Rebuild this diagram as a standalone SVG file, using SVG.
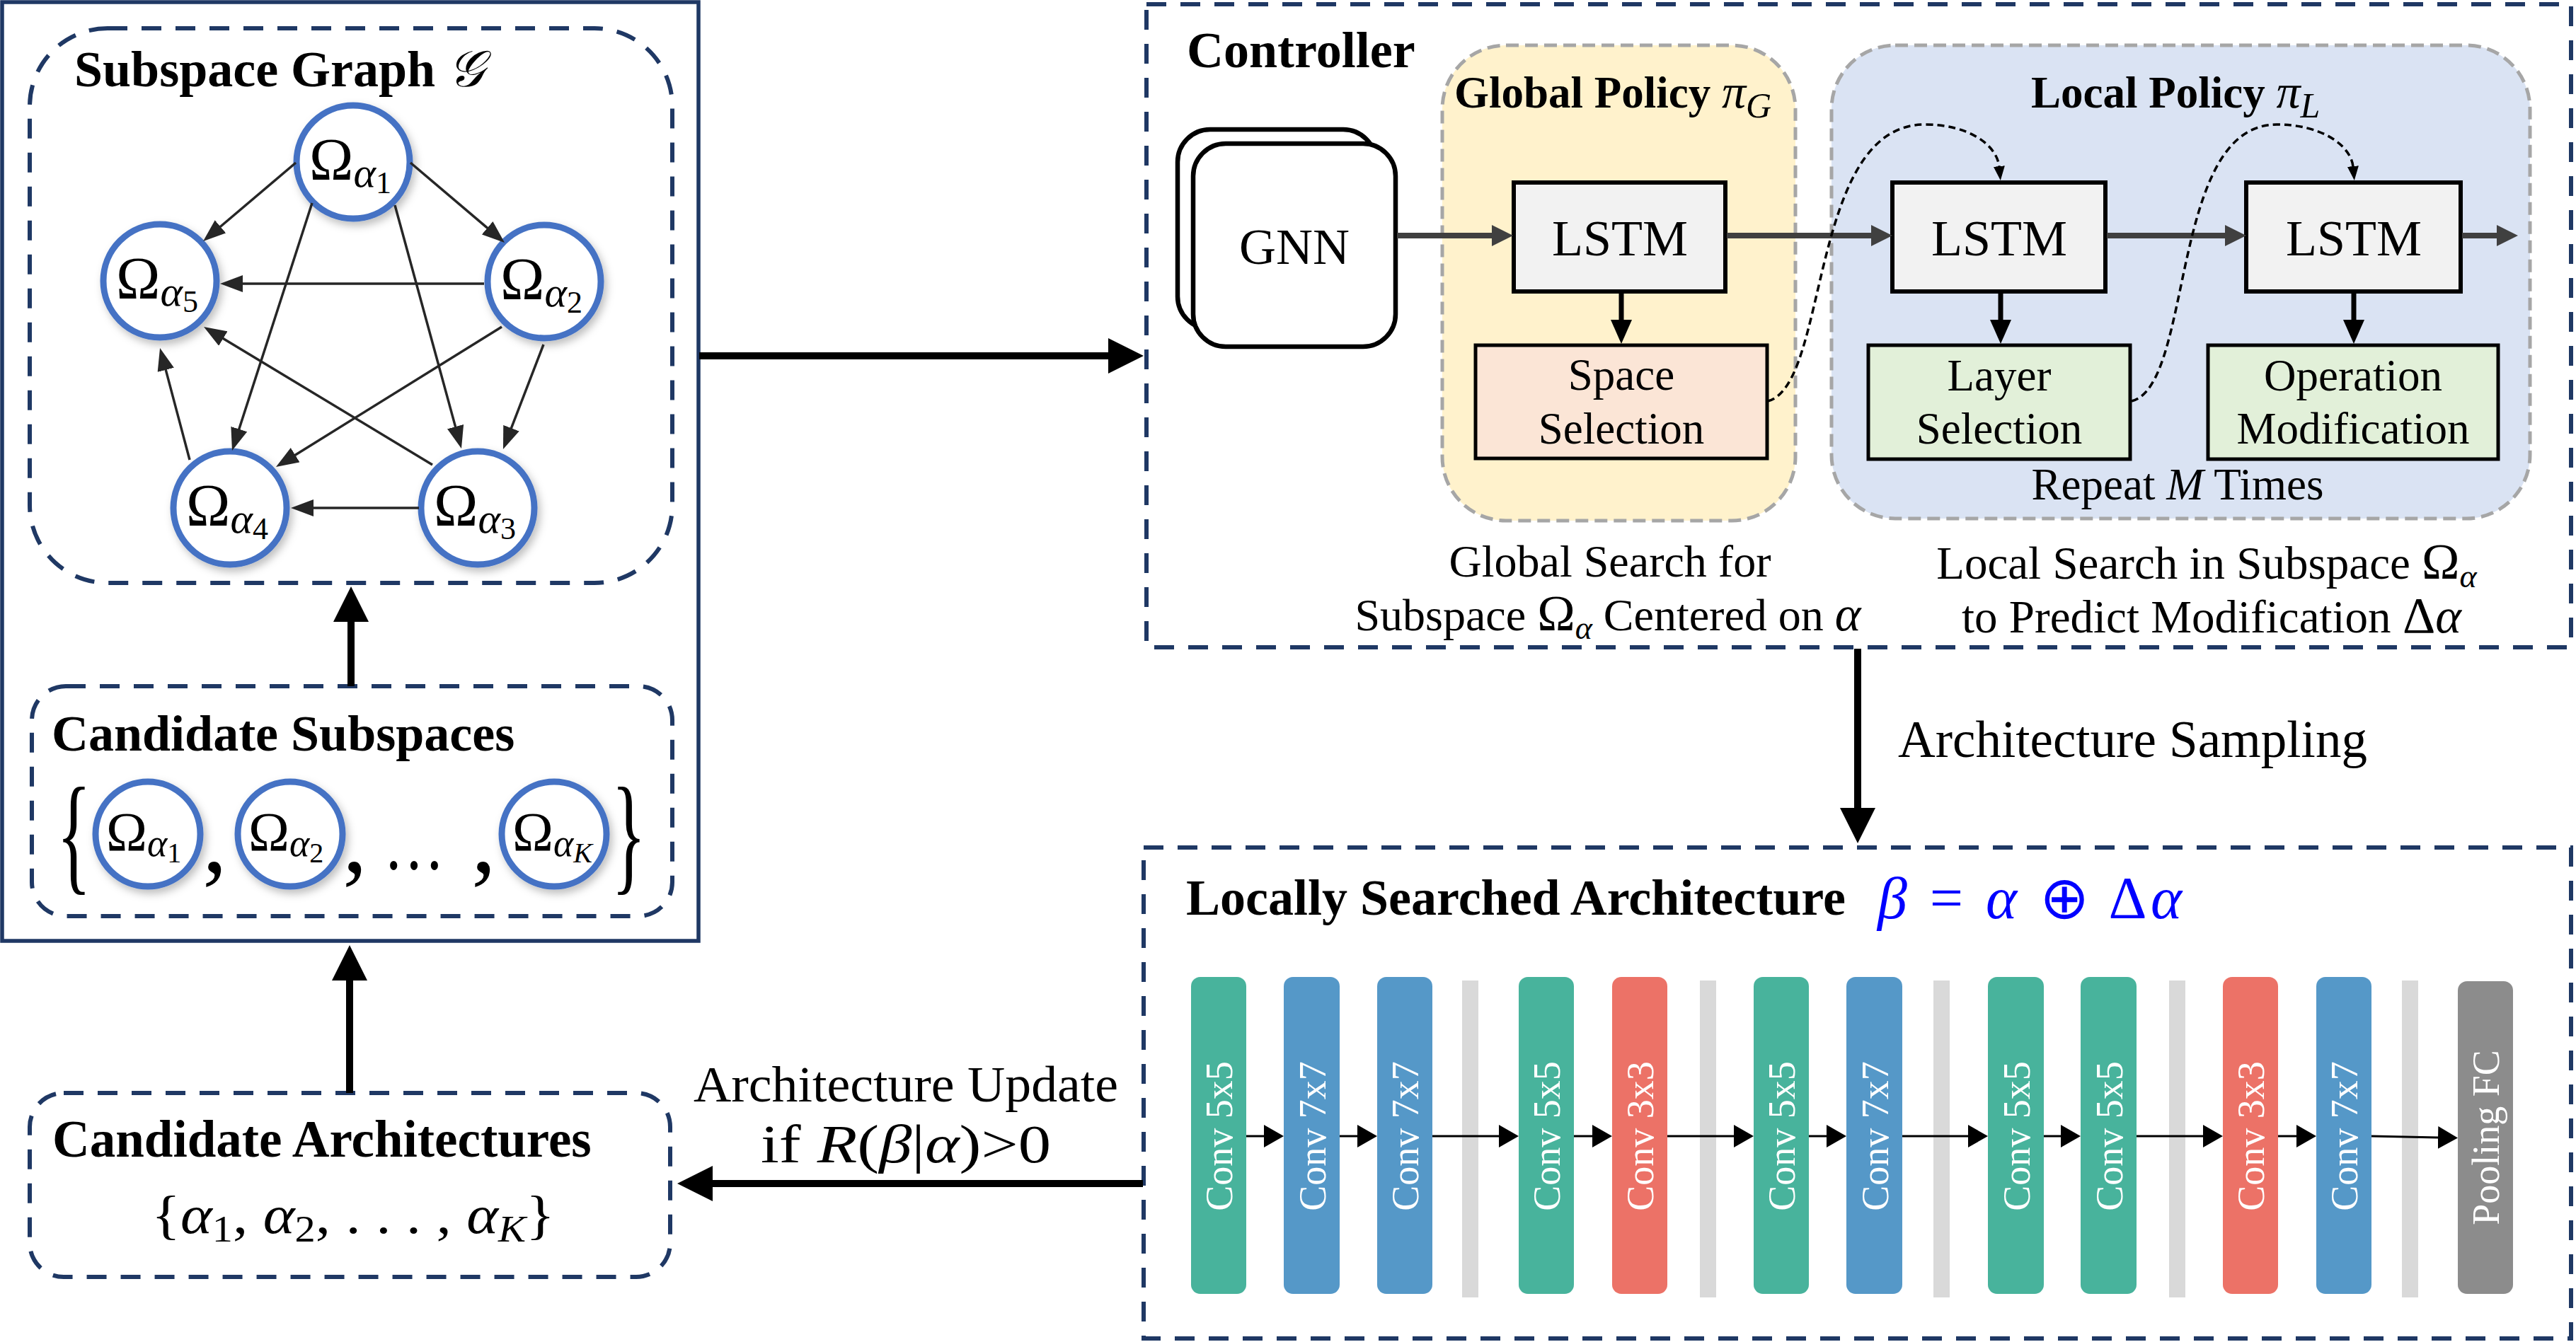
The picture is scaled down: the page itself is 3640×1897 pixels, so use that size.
<svg xmlns="http://www.w3.org/2000/svg" width="3640" height="1897" viewBox="0 0 3640 1897">
<style>
.serif{font-family:"Liberation Serif","Times New Roman",serif;fill:#000}
.bold{font-weight:bold}
.it{font-style:italic}
.navydash{fill:none;stroke:#1F3864;stroke-width:6;stroke-dasharray:28 20}
.polpanel{stroke:#A6A6A6;stroke-width:5;stroke-dasharray:18 9}
.gnode{fill:#fff;stroke:#4472C4;stroke-width:9}
.edge{stroke:#262626;stroke-width:3.5;fill:none}
.big{stroke:#000;stroke-width:10;fill:none}
.gray{stroke:#404040;stroke-width:8;fill:none}
.down{stroke:#000;stroke-width:7;fill:none}
.curve{stroke:#000;stroke-width:3.5;fill:none;stroke-dasharray:10 6}
.chain{stroke:#000;stroke-width:3;fill:none}
.box{stroke:#000;stroke-width:6}
.blk{font-family:"Liberation Serif","Times New Roman",serif;font-size:54px;fill:#fff}
.bar{fill:#D9D9D9}
</style>
<defs>
<filter id="shadow" x="-30%" y="-30%" width="160%" height="160%">
<feDropShadow dx="4" dy="6" stdDeviation="6" flood-color="#000" flood-opacity="0.25"/>
</filter>
<marker id="mBig" markerUnits="userSpaceOnUse" markerWidth="50" markerHeight="50" viewBox="0 0 50 50" refX="2" refY="25" orient="auto"><path d="M0,0 L50,25 L0,50 z" fill="#000"/></marker>
<marker id="mEdge" markerUnits="userSpaceOnUse" markerWidth="32" markerHeight="24" viewBox="0 0 32 24" refX="1" refY="12" orient="auto"><path d="M0,0 L32,12 L0,24 z" fill="#262626"/></marker>
<marker id="mGray" markerUnits="userSpaceOnUse" markerWidth="30" markerHeight="30" viewBox="0 0 30 30" refX="1" refY="15" orient="auto"><path d="M0,0 L30,15 L0,30 z" fill="#404040"/></marker>
<marker id="mDown" markerUnits="userSpaceOnUse" markerWidth="34" markerHeight="30" viewBox="0 0 34 30" refX="1" refY="15" orient="auto"><path d="M0,0 L34,15 L0,30 z" fill="#000"/></marker>
<marker id="mDash" markerUnits="userSpaceOnUse" markerWidth="20" markerHeight="16" viewBox="0 0 20 16" refX="1" refY="8" orient="auto"><path d="M0,0 L20,8 L0,16 z" fill="#000"/></marker>
<marker id="mChain" markerUnits="userSpaceOnUse" markerWidth="28" markerHeight="32" viewBox="0 0 28 32" refX="1" refY="16" orient="auto"><path d="M0,0 L28,16 L0,32 z" fill="#000"/></marker>
</defs>

<rect width="3640" height="1897" fill="#fff"/>

<!-- Left panel -->
<g id="left-panel">
<rect x="3" y="3" width="984" height="1327" fill="none" stroke="#1F3864" stroke-width="5.5"/>
</g>

<g id="subspace-graph">
<rect x="42" y="40" width="908" height="784" rx="110" class="navydash"/>
<text x="105" y="122" class="serif bold" font-size="72">Subspace Graph <tspan font-weight="normal" font-family="DejaVu Serif, Liberation Serif, serif" font-style="italic">𝒢</tspan></text>
</g>

<g id="node-a1"><circle cx="499" cy="229" r="80" class="gnode" filter="url(#shadow)"/>
<text class="serif" x="437" y="254" font-size="84">Ω<tspan class="it" font-size="60" dy="10">α</tspan><tspan font-size="44" dy="9">1</tspan></text></g>
<g id="node-a2"><circle cx="769" cy="398" r="80" class="gnode" filter="url(#shadow)"/>
<text class="serif" x="707" y="423" font-size="84">Ω<tspan class="it" font-size="60" dy="10">α</tspan><tspan font-size="44" dy="9">2</tspan></text></g>
<g id="node-a3"><circle cx="675" cy="718" r="80" class="gnode" filter="url(#shadow)"/>
<text class="serif" x="613" y="743" font-size="84">Ω<tspan class="it" font-size="60" dy="10">α</tspan><tspan font-size="44" dy="9">3</tspan></text></g>
<g id="node-a4"><circle cx="325" cy="718" r="80" class="gnode" filter="url(#shadow)"/>
<text class="serif" x="263" y="743" font-size="84">Ω<tspan class="it" font-size="60" dy="10">α</tspan><tspan font-size="44" dy="9">4</tspan></text></g>
<g id="node-a5"><circle cx="226" cy="397" r="80" class="gnode" filter="url(#shadow)"/>
<text class="serif" x="164" y="422" font-size="84">Ω<tspan class="it" font-size="60" dy="10">α</tspan><tspan font-size="44" dy="9">5</tspan></text></g>

<g id="candidate-subspaces">
<rect x="45" y="970" width="905" height="325" rx="48" class="navydash"/>
<text x="73" y="1061" class="serif bold" font-size="72">Candidate Subspaces</text>
<text class="serif" transform="translate(80,1240) scale(0.55,1)" font-size="185">{</text>
<g filter="url(#shadow)">
<circle cx="209" cy="1179" r="74" class="gnode"/>
<circle cx="410" cy="1179" r="74" class="gnode"/>
<circle cx="783" cy="1179" r="74" class="gnode"/>
</g>
<text class="serif" x="150" y="1202" font-size="78">Ω<tspan class="it" font-size="54" dy="8">α</tspan><tspan font-size="40" dy="9">1</tspan></text>
<text class="serif" x="351" y="1202" font-size="78">Ω<tspan class="it" font-size="54" dy="8">α</tspan><tspan font-size="40" dy="9">2</tspan></text>
<text class="serif" x="724" y="1202" font-size="78">Ω<tspan class="it" font-size="54" dy="8">α</tspan><tspan class="it" font-size="40" dy="9">K</tspan></text>
<text class="serif" x="286" y="1232" font-size="140">,</text>
<text class="serif" x="484" y="1232" font-size="140">,</text>
<text class="serif" x="542" y="1228" font-size="110" textLength="86" lengthAdjust="spacingAndGlyphs">…</text>
<text class="serif" x="666" y="1232" font-size="140">,</text>
<text class="serif" transform="translate(864,1240) scale(0.55,1)" font-size="185">}</text>
</g>

<g id="candidate-architectures">
<rect x="42" y="1545" width="905" height="260" rx="48" class="navydash"/>
<text x="74" y="1635" class="serif bold" font-size="73">Candidate Architectures</text>
<text class="serif" x="214" y="1743" font-size="76" textLength="570" lengthAdjust="spacingAndGlyphs">{<tspan class="it">α</tspan><tspan font-size="52" dy="12">1</tspan><tspan dy="-12">, </tspan><tspan class="it">α</tspan><tspan font-size="52" dy="12">2</tspan><tspan dy="-12">, . . . , </tspan><tspan class="it">α</tspan><tspan class="it" font-size="52" dy="12">K</tspan><tspan dy="-12">}</tspan></text>
</g>

<!-- Controller -->
<g id="controller">
<rect x="1620" y="6" width="2013" height="909" class="navydash"/>
<text x="1677" y="95" class="serif bold" font-size="72">Controller</text>
</g>

<g id="global-policy">
<rect x="2038" y="64" width="499" height="672" rx="90" fill="#FFF2CC" class="polpanel"/>
<text x="2055" y="152" class="serif bold" font-size="63">Global Policy <tspan font-weight="normal" class="it" font-size="68">π</tspan><tspan font-weight="normal" class="it" font-size="50" dy="14">G</tspan></text>
</g>

<g id="local-policy">
<rect x="2588" y="64" width="987" height="669" rx="90" fill="#DAE3F3" class="polpanel"/>
<text x="2870" y="152" class="serif bold" font-size="63">Local Policy <tspan font-weight="normal" class="it" font-size="68">π</tspan><tspan font-weight="normal" class="it" font-size="50" dy="14">L</tspan></text>
<text x="3077" y="706" class="serif" font-size="63" text-anchor="middle">Repeat <tspan class="it">M</tspan> Times</text>
</g>

<g id="gnn">
<rect x="1664" y="183" width="280" height="282" rx="46" fill="#fff" stroke="#000" stroke-width="6.5"/>
<rect x="1686" y="203" width="286" height="287" rx="46" fill="#fff" stroke="#000" stroke-width="6.5"/>
<text x="1829" y="373" class="serif" font-size="72" text-anchor="middle">GNN</text>
</g>

<g id="lstm1">
<rect x="2139" y="258" width="299" height="154" fill="#F2F2F2" class="box"/>
<text x="2289" y="361" class="serif" font-size="72" text-anchor="middle">LSTM</text>
</g>
<g id="space-selection">
<rect x="2085" y="488" width="412" height="160" fill="#FBE5D6" stroke="#000" stroke-width="5"/>
<text x="2291" y="551" class="serif" font-size="63" text-anchor="middle">Space</text>
<text x="2291" y="627" class="serif" font-size="63" text-anchor="middle">Selection</text>
</g>
<g id="lstm2">
<rect x="2674" y="258" width="301" height="154" fill="#F2F2F2" class="box"/>
<text x="2825" y="361" class="serif" font-size="72" text-anchor="middle">LSTM</text>
</g>
<g id="layer-selection">
<rect x="2640" y="488" width="370" height="161" fill="#E2F0D9" stroke="#000" stroke-width="5"/>
<text x="2825" y="552" class="serif" font-size="63" text-anchor="middle">Layer</text>
<text x="2825" y="627" class="serif" font-size="63" text-anchor="middle">Selection</text>
</g>
<g id="lstm3">
<rect x="3174" y="258" width="303" height="154" fill="#F2F2F2" class="box"/>
<text x="3326" y="361" class="serif" font-size="72" text-anchor="middle">LSTM</text>
</g>
<g id="operation-modification">
<rect x="3120" y="488" width="410" height="161" fill="#E2F0D9" stroke="#000" stroke-width="5"/>
<text x="3325" y="552" class="serif" font-size="63" text-anchor="middle">Operation</text>
<text x="3325" y="627" class="serif" font-size="63" text-anchor="middle">Modification</text>
</g>

<g id="captions">
<text x="2275" y="815" class="serif" font-size="64" text-anchor="middle">Global Search for</text>
<text x="2272" y="891" class="serif" font-size="64" text-anchor="middle">Subspace <tspan font-size="72">Ω</tspan><tspan class="it" font-size="46" dy="12">α</tspan><tspan dy="-12"> Centered on </tspan><tspan class="it" font-size="70">α</tspan></text>
<text x="3118" y="818" class="serif" font-size="65" text-anchor="middle">Local Search in Subspace <tspan font-size="72">Ω</tspan><tspan class="it" font-size="46" dy="12">α</tspan></text>
<text x="3125" y="894" class="serif" font-size="65" text-anchor="middle">to Predict Modification <tspan font-size="72">Δ</tspan><tspan class="it" font-size="70">α</tspan></text>
<text x="2682" y="1070" class="serif" font-size="73">Architecture Sampling</text>
<text x="980" y="1557" class="serif" font-size="72" textLength="600" lengthAdjust="spacingAndGlyphs">Architecture Update</text>
<text x="1075" y="1643" class="serif" font-size="76" textLength="410" lengthAdjust="spacingAndGlyphs">if <tspan class="it">R</tspan>(<tspan class="it">β</tspan>|<tspan class="it">α</tspan>)&gt;0</text>
</g>

<!-- Locally searched architecture -->
<g id="locally-searched">
<rect x="1616" y="1198" width="2017" height="694" class="navydash"/>
<text x="1676" y="1293" class="serif bold" font-size="72">Locally Searched Architecture</text>
<text x="2653" y="1298" class="serif" fill="#0000FF" style="fill:#0000FF" font-size="84" textLength="430" lengthAdjust="spacing"><tspan class="it">β</tspan> = <tspan class="it">α</tspan> ⊕ Δ<tspan class="it">α</tspan></text>
</g>

<g id="bars">
<rect x="2066" y="1386" width="23" height="448" class="bar"/>
<rect x="2402" y="1386" width="23" height="448" class="bar"/>
<rect x="2732" y="1386" width="23" height="448" class="bar"/>
<rect x="3065" y="1386" width="23" height="448" class="bar"/>
<rect x="3394" y="1386" width="23" height="448" class="bar"/>
</g>

<g id="layer-1"><rect x="1683" y="1381" width="78" height="448" rx="13" fill="#48B39C"/><text class="blk" transform="translate(1741,1606) rotate(-90)" text-anchor="middle">Conv 5x5</text></g>
<g id="layer-2"><rect x="1814" y="1381" width="79" height="448" rx="13" fill="#5598C8"/><text class="blk" transform="translate(1873,1606) rotate(-90)" text-anchor="middle">Conv 7x7</text></g>
<g id="layer-3"><rect x="1946" y="1381" width="78" height="448" rx="13" fill="#5598C8"/><text class="blk" transform="translate(2004,1606) rotate(-90)" text-anchor="middle">Conv 7x7</text></g>
<g id="layer-4"><rect x="2146" y="1381" width="78" height="448" rx="13" fill="#48B39C"/><text class="blk" transform="translate(2204,1606) rotate(-90)" text-anchor="middle">Conv 5x5</text></g>
<g id="layer-5"><rect x="2278" y="1381" width="78" height="448" rx="13" fill="#EC7267"/><text class="blk" transform="translate(2336,1606) rotate(-90)" text-anchor="middle">Conv 3x3</text></g>
<g id="layer-6"><rect x="2478" y="1381" width="78" height="448" rx="13" fill="#48B39C"/><text class="blk" transform="translate(2536,1606) rotate(-90)" text-anchor="middle">Conv 5x5</text></g>
<g id="layer-7"><rect x="2609" y="1381" width="79" height="448" rx="13" fill="#5598C8"/><text class="blk" transform="translate(2668,1606) rotate(-90)" text-anchor="middle">Conv 7x7</text></g>
<g id="layer-8"><rect x="2809" y="1381" width="79" height="448" rx="13" fill="#48B39C"/><text class="blk" transform="translate(2868,1606) rotate(-90)" text-anchor="middle">Conv 5x5</text></g>
<g id="layer-9"><rect x="2940" y="1381" width="79" height="448" rx="13" fill="#48B39C"/><text class="blk" transform="translate(2999,1606) rotate(-90)" text-anchor="middle">Conv 5x5</text></g>
<g id="layer-10"><rect x="3141" y="1381" width="78" height="448" rx="13" fill="#EC7267"/><text class="blk" transform="translate(3199,1606) rotate(-90)" text-anchor="middle">Conv 3x3</text></g>
<g id="layer-11"><rect x="3273" y="1381" width="78" height="448" rx="13" fill="#5598C8"/><text class="blk" transform="translate(3331,1606) rotate(-90)" text-anchor="middle">Conv 7x7</text></g>
<g id="layer-12"><rect x="3473" y="1387" width="78" height="442" rx="13" fill="#8C8C8C"/><text class="blk" transform="translate(3531,1608) rotate(-90)" text-anchor="middle">Pooling FC</text></g>

<!-- Connectors -->
<g id="connectors">
<line x1="418" y1="230" x2="310.7" y2="321" class="edge" marker-end="url(#mEdge)"/>
<line x1="580" y1="230" x2="689.4" y2="322.9" class="edge" marker-end="url(#mEdge)"/>
<line x1="441" y1="287" x2="337.5" y2="607.5" class="edge" marker-end="url(#mEdge)"/>
<line x1="558" y1="290" x2="643.8" y2="604.1" class="edge" marker-end="url(#mEdge)"/>
<line x1="684" y1="401" x2="342" y2="401" class="edge" marker-end="url(#mEdge)"/>
<line x1="709" y1="462" x2="416.3" y2="643.7" class="edge" marker-end="url(#mEdge)"/>
<line x1="768" y1="487" x2="722.1" y2="606.1" class="edge" marker-end="url(#mEdge)"/>
<line x1="611" y1="657" x2="314.5" y2="478" class="edge" marker-end="url(#mEdge)"/>
<line x1="592" y1="718" x2="442" y2="718" class="edge" marker-end="url(#mEdge)"/>
<line x1="268" y1="650" x2="234" y2="521.9" class="edge" marker-end="url(#mEdge)"/>

<line x1="988" y1="503" x2="1568" y2="503" class="big" marker-end="url(#mBig)"/>
<line x1="496" y1="970" x2="496" y2="877" class="big" stroke-width="8" marker-end="url(#mBig)"/>
<line x1="494" y1="1545" x2="494" y2="1384" class="big" stroke-width="8" marker-end="url(#mBig)"/>
<line x1="2625" y1="917" x2="2625" y2="1144" class="big" marker-end="url(#mBig)"/>
<line x1="1615" y1="1673" x2="1005" y2="1673" class="big" stroke-width="11" marker-end="url(#mBig)"/>

<line x1="1974" y1="333" x2="2109" y2="333" class="gray" marker-end="url(#mGray)"/>
<line x1="2440" y1="333" x2="2645" y2="333" class="gray" marker-end="url(#mGray)"/>
<line x1="2977" y1="333" x2="3145" y2="333" class="gray" marker-end="url(#mGray)"/>
<line x1="3479" y1="333" x2="3529" y2="333" class="gray" marker-end="url(#mGray)"/>

<line x1="2291" y1="412" x2="2291" y2="453" class="down" marker-end="url(#mDown)"/>
<line x1="2827" y1="412" x2="2827" y2="453" class="down" marker-end="url(#mDown)"/>
<line x1="3326" y1="412" x2="3326" y2="453" class="down" marker-end="url(#mDown)"/>

<path d="M2498,567 C2585,545 2555,176 2720,176 C2782,176 2822,205 2825,236" class="curve" marker-end="url(#mDash)"/>
<path d="M3012,567 C3100,545 3065,176 3217,176 C3280,176 3322,205 3325,236" class="curve" marker-end="url(#mDash)"/>

<line x1="1761" y1="1606" x2="1787" y2="1606" class="chain" marker-end="url(#mChain)"/>
<line x1="1893" y1="1606" x2="1919" y2="1606" class="chain" marker-end="url(#mChain)"/>
<line x1="2024" y1="1606" x2="2119" y2="1606" class="chain" marker-end="url(#mChain)"/>
<line x1="2224" y1="1606" x2="2251" y2="1606" class="chain" marker-end="url(#mChain)"/>
<line x1="2356" y1="1606" x2="2451" y2="1606" class="chain" marker-end="url(#mChain)"/>
<line x1="2556" y1="1606" x2="2582" y2="1606" class="chain" marker-end="url(#mChain)"/>
<line x1="2688" y1="1606" x2="2782" y2="1606" class="chain" marker-end="url(#mChain)"/>
<line x1="2888" y1="1606" x2="2913" y2="1606" class="chain" marker-end="url(#mChain)"/>
<line x1="3019" y1="1606" x2="3114" y2="1606" class="chain" marker-end="url(#mChain)"/>
<line x1="3219" y1="1606" x2="3246" y2="1606" class="chain" marker-end="url(#mChain)"/>
<line x1="3351" y1="1606" x2="3446" y2="1608" class="chain" marker-end="url(#mChain)"/>
</g>
</svg>
